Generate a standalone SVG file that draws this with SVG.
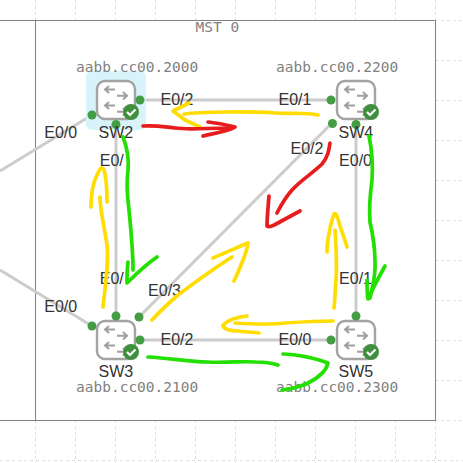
<svg xmlns="http://www.w3.org/2000/svg" xmlns:xlink="http://www.w3.org/1999/xlink" width="463" height="463" viewBox="0 0 463 463">
<style>
.grid{stroke:#dddddd;stroke-width:1;stroke-dasharray:3 3;fill:none}
.frame{stroke:#808080;stroke-width:1;fill:none}
.link{stroke:#cccccc;stroke-width:3;fill:none}
.port{fill:#449d44}
.lbl{font-family:"Liberation Sans",Arial,sans-serif;font-size:16px;fill:#333333}
.mac{font-family:"DejaVu Sans Mono",monospace;font-size:14.5px;fill:#808080}
.y,.r,.g{fill:none;stroke-width:3.7;stroke-linecap:round;stroke-linejoin:round}
.y{stroke:#ffdd00}.r{stroke:#e81c1c}.g{stroke:#22e000}
</style>
<defs>
<g id="sw">
<rect x="-19" y="-19" width="38" height="38" rx="8" fill="#ffffff" stroke="#a3a3a3" stroke-width="2.400"/>
<g fill="none" stroke="#a0a0a0" stroke-width="2">
<path d="M-1-10.5H-11M-7-14l-4 3.500 4 3.500"/>
<path d="M1-4.300H11M7-8l4 3.700-4 3.700"/>
<path d="M-1 5.500H-11M-7 2l-4 3.500 4 3.500"/>
<path d="M1 11.700H11M7 8l4 3.700-4 3.700"/>
</g>
<circle cx="15" cy="12" r="8" fill="#3f8f3f"/>
<path d="M11 12l3 3 5.500-5.500" fill="none" stroke="#ffffff" stroke-width="2.200"/>
</g>
</defs>
<rect width="463" height="463" fill="#ffffff"/>
<g id="grid" class="grid">
<path d="M35.500 0V20M75.500 0V20M115.500 0V20M155.500 0V20M195.500 0V20M235.500 0V20M275.500 0V20M315.500 0V20M355.500 0V20M395.500 0V20M435.500 0V20"/>
<path d="M35.500 420V463M75.500 420V463M115.500 420V463M155.500 420V463M195.500 420V463M235.500 420V463M275.500 420V463M315.500 420V463M355.500 420V463M395.500 420V463M435.500 420V463"/>
<path d="M435 20.500H463M435 60.500H463M435 100.500H463M435 140.500H463M435 180.500H463M435 220.500H463M435 260.500H463M435 300.500H463M435 340.500H463M435 380.500H463M435 420.500H463M0 460.500H463"/>
</g>
<g id="frame" class="frame">
<path d="M0 20.500H435.500V420.500H0M35.500 20.500V420.500"/>
<text class="mac" x="195.500" y="32" stroke="none">MST 0</text>
</g>
<g id="connectors" class="link">
<path d="M140 100H331"/>
<path d="M116 124V316"/>
<path d="M140 340H331"/>
<path d="M356 124V316"/>
<path d="M139 317L332 123"/>
<path d="M92 115L0 171"/>
<path d="M92 326L0 270"/>
</g>
<g id="sw2">
<rect x="86" y="71" width="60" height="59" rx="6" fill="#d8f3fa"/>
<use xlink:href="#sw" href="#sw" x="116" y="100"/>
<circle class="port" cx="140" cy="100" r="4.500"/>
<circle class="port" cx="92" cy="115" r="4.500"/>
<circle class="port" cx="116" cy="124.500" r="4.500"/>
<text class="mac" x="76" y="72">aabb.cc00.2000</text>
<text class="lbl" x="98.500" y="137.800">SW2</text>
<text class="lbl" x="160.500" y="104.700">E0/2</text>
<text class="lbl" x="44.300" y="137.900">E0/0</text>
<text class="lbl" x="99.800" y="165.900">E0/</text>
</g>
<g id="sw4">
<use xlink:href="#sw" href="#sw" x="356" y="100"/>
<circle class="port" cx="331" cy="100" r="4.500"/>
<circle class="port" cx="332.500" cy="123.500" r="4.500"/>
<circle class="port" cx="356" cy="124.500" r="4.500"/>
<text class="mac" x="276" y="72">aabb.cc00.2200</text>
<text class="lbl" x="338.500" y="137.800">SW4</text>
<text class="lbl" x="278.500" y="104.700">E0/1</text>
<text class="lbl" x="290.500" y="153.500">E0/2</text>
<text class="lbl" x="339.100" y="165.900">E0/0</text>
</g>
<g id="sw3">
<use xlink:href="#sw" href="#sw" x="116" y="340"/>
<circle class="port" cx="92" cy="326" r="4.500"/>
<circle class="port" cx="116" cy="316" r="4.500"/>
<circle class="port" cx="139" cy="317" r="4.500"/>
<circle class="port" cx="140" cy="340" r="4.500"/>
<text class="mac" x="76" y="392">aabb.cc00.2100</text>
<text class="lbl" x="98.500" y="377.200">SW3</text>
<text class="lbl" x="44.300" y="311.500">E0/0</text>
<text class="lbl" x="99.800" y="283.900">E0/</text>
<text class="lbl" x="148.100" y="295.500">E0/3</text>
<text class="lbl" x="160.500" y="344.900">E0/2</text>
</g>
<g id="sw5">
<use xlink:href="#sw" href="#sw" x="356" y="340"/>
<circle class="port" cx="331" cy="340" r="4.500"/>
<circle class="port" cx="356" cy="316" r="4.500"/>
<text class="mac" x="276" y="392">aabb.cc00.2300</text>
<text class="lbl" x="338.500" y="377.200">SW5</text>
<text class="lbl" x="278.500" y="344.900">E0/0</text>
<text class="lbl" x="339.100" y="283.900">E0/1</text>
</g>
<g id="annotations">
<path class="y" d="M184 114C200 112 250 111 275 113C290 114 305 112 318 115"/>
<path class="y" d="M189 103L173 111L185 120L200 127"/>
<path class="r" d="M143 126C155 125 165 127 175 128C190 130 205 128 231 128"/>
<path class="r" d="M208 122C218 123 228 125 235 127C230 131 215 133 203 136"/>
<path class="r" d="M330 143C329 150 328 157 322 164C314 172 300 181 292 190C285 198 281 205 277 213"/>
<path class="r" d="M269 196C268 208 267 218 267 226C270 228 272 226 276 224L300 211"/>
<path class="g" d="M123 137C128 150 129 160 128 170C126 185 127 195 129 210C131 230 133 250 133 270"/>
<path class="g" d="M128 262C127 270 127 277 127 283C135 275 147 264 157 257"/>
<path class="y" d="M100 197C100 210 104 225 107 245C109 260 106 280 103 307"/>
<path class="y" d="M91 207C91 195 92 185 97 175C100 168 102 166 104 170C107 180 107 190 107 202"/>
<path class="g" d="M369 136C372 150 373 165 372 180C370 195 369 210 370 222C373 235 375 250 375 262C376 275 373 285 370 298"/>
<path class="g" d="M367 280C367 288 367 294 368 299C373 288 380 275 385 266"/>
<path class="y" d="M335 230C336 245 337 265 336 280C335 290 335 300 334 308"/>
<path class="y" d="M327 252C327 240 331 222 334 214C336 212 338 218 339 223C342 232 345 240 347 247"/>
<path class="y" d="M152 320C160 311 170 302 178 295C190 286 210 271 232 257"/>
<path class="y" d="M213 258C225 253 238 247 248 243C247 252 240 268 234 281"/>
<path class="y" d="M333 321C318 321 300 322 285 323C270 325 250 324 235 323"/>
<path class="y" d="M247 316C238 317 228 320 223 325C223 329 230 331 238 331C245 332 252 332 259 333"/>
<path class="g" d="M148 357C170 358 190 362 207 362C225 363 245 361 255 362C265 362 272 363 278 365"/>
<path class="g" d="M283 354C295 354 315 358 328 363C326 372 318 378 308 383C300 387 290 389 282 390"/>
</g>
</svg>
